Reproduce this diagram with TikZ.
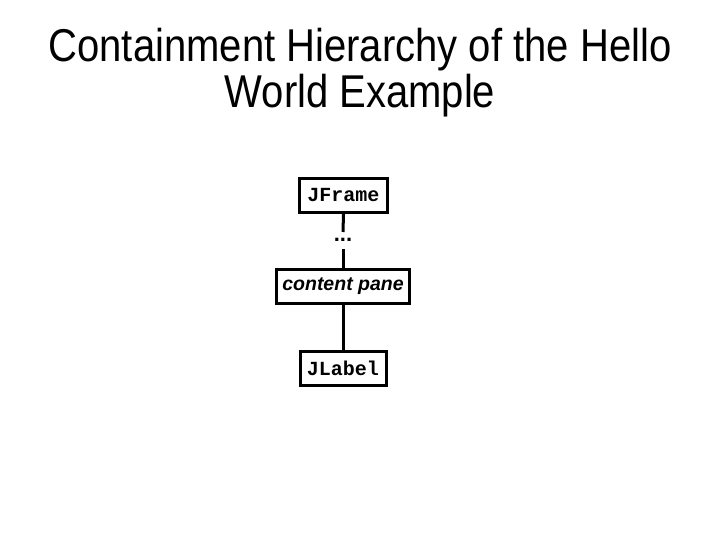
\documentclass[tikz,border=0pt]{standalone}
\usepackage{fontspec}
\setmainfont{Liberation Sans}
\newfontfamily\monofont{Liberation Mono}
\begin{document}
\begin{tikzpicture}[x=1pt,y=-1pt,
  box/.style={draw=black,line width=3pt,inner sep=0pt,minimum height=34pt},
  link/.style={draw=black,line width=3pt},
  titletext/.style={anchor=base,inner sep=0pt,font=\fontsize{46}{46}\selectfont}]
\useasboundingbox (0,0) rectangle (720,540);
\node[titletext] (title1) at (360,62) {\scalebox{0.87}[1]{Containment Hierarchy of the Hello}};
\node[titletext] (title2) at (360,108) {\scalebox{0.87}[1]{World Example}};
\node[box,minimum width=88pt,font=\monofont\bfseries\fontsize{20}{22}\selectfont] (jframe) at (343.5,195.5) {JFrame};
\node[font=\bfseries\fontsize{22}{22}\selectfont] (dots) at (343,240) {...};
\node[box,minimum width=133pt,font=\bfseries\itshape\fontsize{19.5}{22}\selectfont] (pane) at (343,286.5) {content pane};
\node[box,minimum width=86pt,font=\monofont\bfseries\fontsize{20}{22}\selectfont] (jlabel) at (343,368.5) {JLabel};
\coordinate (d1) at (343,232);
\coordinate (d2) at (343,249);
\draw[link] (jframe.south) -- (d1);
\draw[link] (d2) -- (pane.north);
\draw[link] (pane.south) -- (jlabel.north);
\end{tikzpicture}
\end{document}
